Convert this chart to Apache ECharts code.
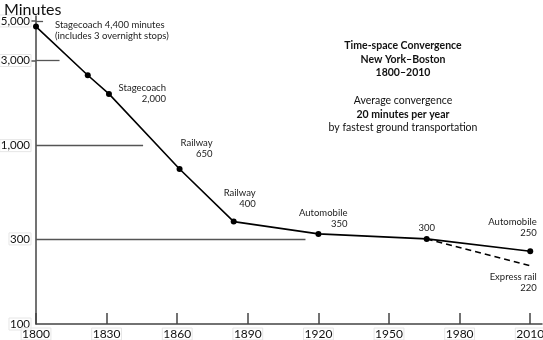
<!DOCTYPE html>
<html><head><meta charset="utf-8">
<script src="https://cdn.jsdelivr.net/npm/echarts@6/dist/echarts.min.js"></script>
<style>html,body{margin:0;padding:0;background:#fff}#c{width:543px;height:340px}</style>
</head><body><div id="c"></div>
<script>
// Data (years, minutes)
const years = [1800, 1822, 1831, 1861, 1884, 1920, 1966, 2010];
const minutes = [4650, 2480, 1950, 740, 375, 320, 300, 256];
const pointLabels = ['Stagecoach 4,400 minutes\n(includes 3 overnight stops)', '', 'Stagecoach\n2,000', 'Railway\n650', 'Railway\n400', 'Automobile\n350', '300', 'Automobile\n250'];
const railYears = [1966, 2010];
const railMinutes = [300, 212];
const railLabels = ['', 'Express rail\n220'];
const xTicks = [1800, 1830, 1860, 1890, 1920, 1950, 1980, 2010];
const yTicks = [100, 300, 1000, 3000, 5000];
const refLines = [[5000, 1803], [3000, 1810], [1000, 1845.5], [300, 1914.5]];
const titleLines = ['Time-space Convergence', 'New York–Boston', '1800–2010'];
const noteLines = ['Average convergence', '20 minutes per year', 'by fastest ground transportation'];

const FONT = 'Lato';
const labelStyles = [
  {offset: [19, 3.5], align: 'left'},
  null,
  {offset: [57, 0], align: 'right'},
  {offset: [33, -21], align: 'right'},
  {offset: [22, -23], align: 'right'},
  {offset: [29, -15], align: 'right'},
  {offset: [0, -11], align: 'center'},
  {offset: [6.5, -24], align: 'right'}
];
const railLabelStyles = [null, {offset: [6.5, 17], align: 'right'}];

function mkData(xs, ys, labels, styles, hideSymbols) {
  return xs.map((x, i) => {
    const d = {value: [x, ys[i]]};
    if (hideSymbols) d.itemStyle = {color: 'rgba(0,0,0,0)', borderColor: 'rgba(0,0,0,0)'};
    if (labels[i] && styles[i]) {
      d.label = {
        show: true, position: 'inside', formatter: labels[i],
        offset: styles[i].offset, align: styles[i].align, verticalAlign: 'middle',
        fontFamily: FONT, fontSize: 9.5, lineHeight: 11, color: '#222'
      };
    }
    return d;
  });
}

const chart = echarts.init(document.getElementById('c'), null, {renderer: 'canvas'});
const boxStyle = {borderColor: '#e6e6e6', borderWidth: 1, padding: [0, 1]};

const g = [];
titleLines.forEach((t, i) => g.push({type: 'text', x: 403, y: 46 + i * 13.5, style: {text: t, font: 'bold 10.5px ' + FONT, textAlign: 'center', textVerticalAlign: 'middle', fill: '#111'}}));
noteLines.forEach((t, i) => g.push({type: 'text', x: 403, y: 101 + i * 13.3, style: {text: t, font: (i === 1 ? 'bold ' : '') + '10.5px ' + FONT, textAlign: 'center', textVerticalAlign: 'middle', fill: '#111'}}));

chart.setOption({
  animation: false,
  backgroundColor: '#fff',
  title: {text: 'Minutes', left: -1, top: -3, textStyle: {fontFamily: FONT, fontSize: 16, fontWeight: 'normal', color: '#111'}},
  grid: {left: 36, right: 1, top: 16, bottom: 16, containLabel: false, outerBoundsMode: 'none'},
  xAxis: {
    type: 'value', min: 1800, max: 2015, interval: 30,
    splitLine: {show: false},
    axisLine: {lineStyle: {color: '#444', width: 1.5}},
    axisTick: {inside: true, length: 11, customValues: xTicks, lineStyle: {color: '#444', width: 1.5}},
    axisLabel: Object.assign({customValues: xTicks, fontFamily: FONT, fontSize: 12, color: '#111', margin: 4, formatter: v => String(Math.round(v))}, boxStyle)
  },
  yAxis: {
    type: 'log', logBase: 10, min: 100, max: 5330,
    splitLine: {show: false},
    axisLine: {show: true, lineStyle: {color: '#444', width: 1.5}},
    axisTick: {show: true, length: 5, customValues: [3000, 5000], lineStyle: {color: '#555', width: 1.5}},
    axisLabel: Object.assign({customValues: yTicks, fontFamily: FONT, fontSize: 11.5, color: '#111', margin: 5,
      formatter: v => Math.round(v).toLocaleString('en-US')}, boxStyle)
  },
  graphic: g,
  series: [
    {
      type: 'line', data: mkData(years, minutes, pointLabels, labelStyles, false),
      symbol: 'circle', symbolSize: 6, z: 3,
      lineStyle: {color: '#000', width: 1.6}, itemStyle: {color: '#000'},
      markLine: {
        silent: true, symbol: 'none', label: {show: false},
        lineStyle: {color: '#555', width: 1.3, type: 'solid'},
        data: refLines.map(r => [{coord: [1800, r[0]]}, {coord: [r[1], r[0]]}])
      }
    },
    {
      type: 'line', data: mkData(railYears, railMinutes, railLabels, railLabelStyles, true),
      symbol: 'circle', symbolSize: 2, z: 2,
      lineStyle: {color: '#000', width: 1.6, type: [6, 4]}
    }
  ]
});
</script></body></html>
